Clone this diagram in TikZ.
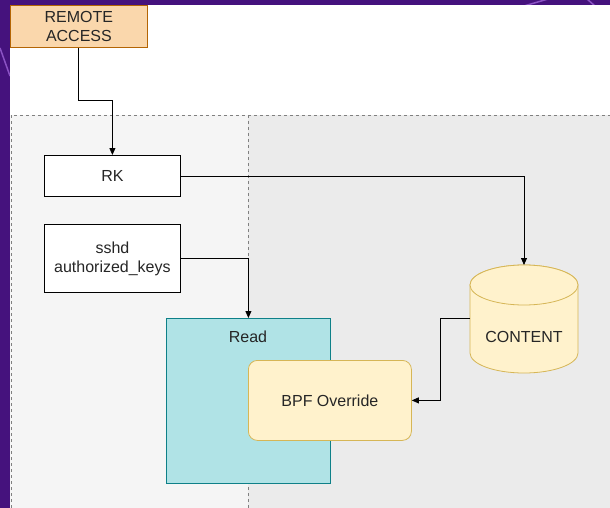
\documentclass[tikz,border=0pt]{standalone}
\usepackage{fontspec}
\setmainfont{Liberation Sans}
\usetikzlibrary{arrows.meta}
\definecolor{deeppurple}{HTML}{45127D}
\definecolor{streak}{HTML}{8B52C4}
\definecolor{paneA}{HTML}{F5F5F5}
\definecolor{paneB}{HTML}{EBEBEB}
\definecolor{accessfill}{HTML}{FAD7AC}
\definecolor{accessline}{HTML}{B46504}
\definecolor{readfill}{HTML}{B0E3E6}
\definecolor{readline}{HTML}{0E8088}
\definecolor{noteFill}{HTML}{FFF2CC}
\definecolor{noteLine}{HTML}{D6B656}
\tikzset{
  lbl/.style={font=\fontsize{16}{19}\selectfont, align=center, text=black!85},
  plainbox/.style={lbl, draw=black, fill=white, line width=0.8pt, minimum width=136pt, inner sep=0pt},
  link/.style={draw=black, line width=0.8pt},
  linkarrow/.style={link, -{Triangle[length=7pt,width=6pt]}},
}
\begin{document}
\begin{tikzpicture}[x=1pt,y=-1pt]
\useasboundingbox (0,0) rectangle (610,508);
% backdrop frame
\fill[deeppurple] (0,0) rectangle (610,508);
\draw[streak, line width=1.5pt] (0,48) -- (10,76);
\draw[streak, line width=1.5pt] (524,6) -- (548,-1);
\draw[streak, line width=1.5pt] (587,-1) -- (595,6);
\fill[white] (10,5) rectangle (610,508);
% dashed panes
\fill[paneA] (10,115) rectangle (248,508);
\fill[paneB] (248,115) rectangle (610,508);
\draw[gray, dashed, line width=0.7pt] (11,508) -- (11,115) -- (610,115);
\draw[gray, dashed, line width=0.7pt] (248,115) -- (248,508);

% nodes
\node[lbl, draw=accessline, fill=accessfill, line width=0.8pt, minimum width=137pt, minimum height=42pt, inner sep=0pt, anchor=north west] (access) at (10,5) {REMOTE\\ACCESS};
\node[plainbox, minimum height=41pt, anchor=north west] (rk) at (44,155) {RK};
\node[plainbox, minimum height=68pt, anchor=north west] (sshd) at (44,224) {sshd\\authorized\_keys};
\node[draw=readline, fill=readfill, line width=0.8pt, minimum width=164pt, minimum height=165pt, inner sep=0pt, anchor=north west] (read) at (166,318) {};
\node[lbl] at (248,337) {Read};
\node[lbl, draw=noteLine, fill=noteFill, line width=0.8pt, rounded corners=9pt, minimum width=163pt, minimum height=80pt, inner sep=0pt, anchor=north west] (bpf) at (248,360) {BPF Override};
% storage cylinder: an outline-free frame node, with the drum drawn round it
\node[minimum width=108pt, minimum height=108pt, inner sep=0pt, outer sep=0pt, anchor=north west] (content) at (470,265) {};
\begin{scope}[draw=noteLine, fill=noteFill, line width=0.8pt]
  \filldraw (470,285) -- (470,353) arc[start angle=180, end angle=360, x radius=54, y radius=-20] -- (578,285) arc[start angle=0, end angle=180, x radius=54, y radius=-20] -- cycle;
  \filldraw (524,285) ellipse[x radius=54, y radius=20];
\end{scope}
\node[lbl] at (524,337) {CONTENT};
\coordinate (bend1) at (78,100);
\coordinate (bend2) at (440,318);

% connectors
\draw[linkarrow] (access.south -| bend1) -- (bend1) -- (bend1 -| rk.north) -- (rk.north);
\draw[linkarrow] (rk.east) -- (rk.east -| content.north) -- (content.north);
\draw[linkarrow] (sshd.east) -- (sshd.east -| read.north) -- (read.north);
\draw[linkarrow] (bend2 -| content.west) -- (bend2) -- (bend2 |- bpf.east) -- (bpf.east);
\end{tikzpicture}
\end{document}
